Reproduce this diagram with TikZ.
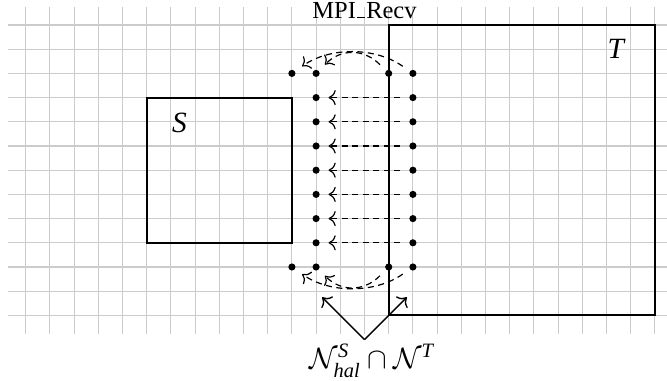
\documentclass[tikz,border=0pt]{standalone}
\usepackage{amsmath}
\usepackage{fontspec}
\setmainfont{Liberation Serif}
\usetikzlibrary{arrows.meta}
\begin{document}
\begin{tikzpicture}[x=0.5cm,y=0.5cm,
  gridline/.style={gray!40, line width=0.6pt},
  box/.style={draw, line width=1.2pt, inner sep=0pt, outer sep=0pt},
  dot/.style={circle, fill=black, inner sep=0pt, minimum size=4.2pt},
  flow/.style={dash pattern=on 3.6pt off 2.6pt, -{To[scale=1.35]}, line width=0.7pt, shorten <=5pt, shorten >=5pt},
  pointer/.style={-{To[scale=1.35]}, line width=0.8pt},
  lbl/.style={font=\LARGE}]
\useasboundingbox (-1.062,1.033) rectangle (26.5,-14.67);
% grid
\foreach \i in {0,...,26} \draw[gridline] (\i,0.75) -- (\i,-12.75);
\foreach \j in {0,...,12} \draw[gridline] (-0.75,-\j) -- (26.75,-\j);
% boxes
\node[box, minimum width=3cm, minimum height=3cm, anchor=south west] (S) at (5,-9) {};
\node[box, minimum width=5.5cm, minimum height=6cm, anchor=south west] (T) at (15,-12) {};
\node[lbl] (Slbl) at (6.35,-4.06) {\textit{S}};
\node[lbl] (Tlbl) at (24.42,-0.99) {\textit{T}};
% dots
\foreach \r in {2,...,10} {
  \node[dot] (a\r) at (12,-\r) {};
  \node[dot] (b\r) at (16,-\r) {};
}
\node[dot] (la2) at (11,-2) {};
\node[dot] (lb2) at (15,-2) {};
\node[dot] (la10) at (11,-10) {};
\node[dot] (lb10) at (15,-10) {};
% horizontal transfers
\foreach \r in {3,...,9} \draw[flow] (b\r) -- (a\r);
% corner arcs
\draw[flow] (b2) to[out=145,in=35,looseness=0.95] (la2);
\draw[flow] (lb2) to[out=135,in=45,looseness=1.2] (a2);
\draw[flow] (b10) to[out=215,in=325,looseness=0.95] (la10);
\draw[flow] (lb10) to[out=225,in=315,looseness=1.2] (a10);
% labels
\node[font=\Large, anchor=base] (mpi) at (14,0.28) {MPI\kern.06em\rule{.3em}{.6pt}\kern.06em Recv};
\coordinate (apex) at (14,-13);
\coordinate (lt) at (12.25,-11.25);
\coordinate (rt) at (15.75,-11.25);
\draw[pointer] (apex) -- (lt);
\draw[pointer] (apex) -- (rt);
\node[lbl, anchor=base] (N) at (14.3,-14.2) {$\mathcal{N}^{\textit{S}}_{\textit{hal}}\cap\mathcal{N}^{\textit{T}}$};
\end{tikzpicture}
\end{document}
